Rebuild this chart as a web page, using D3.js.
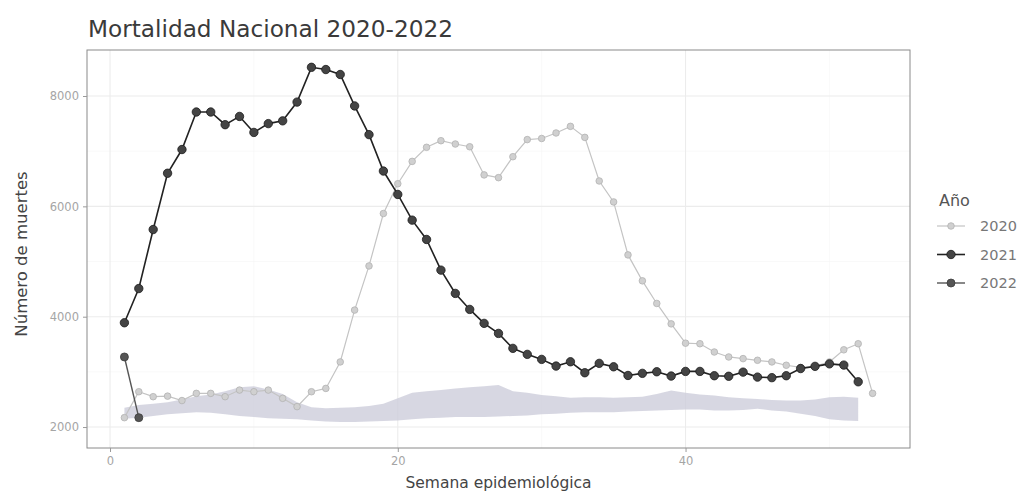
<!DOCTYPE html>
<html>
<head>
<meta charset="utf-8">
<script src="https://cdn.jsdelivr.net/npm/d3@7"></script>
<style>
  html, body { margin: 0; padding: 0; background: #fff; }
  svg { display: block; font-family: "DejaVu Sans", sans-serif; }
</style>
</head>
<body>
<svg id="chart" width="1026" height="495"></svg>
<script>
// ---- Data ----
const semanas = [1,2,3,4,5,6,7,8,9,10,11,12,13,14,15,16,17,18,19,20,21,22,23,24,25,26,27,28,29,30,31,32,33,34,35,36,37,38,39,40,41,42,43,44,45,46,47,48,49,50,51,52,53];
const anios = ["2020", "2021", "2022"];
const muertes2020 = [2170,2640,2550,2560,2480,2610,2610,2550,2670,2640,2670,2520,2370,2640,2700,3180,4120,4920,5870,6410,6815,7070,7190,7130,7080,6570,6520,6900,7210,7230,7330,7450,7250,6460,6080,5120,4650,4240,3870,3520,3510,3360,3270,3240,3210,3180,3120,3080,3100,3180,3400,3510,2610];
const muertes2021 = [3890,4510,5580,6600,7030,7710,7710,7480,7630,7340,7500,7550,7890,8520,8480,8390,7820,7300,6640,6216,5750,5400,4844,4422,4132,3879,3697,3426,3317,3226,3105,3183,2984,3154,3092,2935,2973,3002,2924,3008,3008,2930,2920,2995,2905,2895,2930,3060,3100,3145,3123,2820];
const muertes2022 = [3270,2170];
// historical band (lower / upper), weeks 1-52
const bandaBaja = [2150,2170,2200,2230,2250,2270,2260,2230,2200,2180,2160,2150,2140,2120,2100,2090,2090,2100,2110,2120,2140,2160,2170,2180,2180,2180,2190,2200,2210,2230,2240,2260,2270,2270,2270,2280,2290,2300,2310,2320,2320,2300,2300,2310,2330,2300,2280,2240,2200,2140,2120,2110];
const bandaAlta = [2350,2400,2420,2450,2500,2560,2590,2650,2720,2740,2680,2600,2450,2360,2340,2350,2360,2380,2420,2520,2620,2650,2670,2700,2720,2740,2760,2650,2620,2580,2560,2530,2540,2540,2530,2540,2550,2600,2660,2620,2590,2570,2540,2520,2510,2490,2480,2480,2500,2540,2550,2530];
const yTicks = [2000, 4000, 6000, 8000];
const yMinor = [3000, 5000, 7000];
const xTicks = [0, 20, 40];
const xMinor = [10, 30, 50];

// ---- Layout ----
const panel = { left: 87, right: 910, top: 50, bottom: 448 };
const svg = d3.select("#chart");

const xMin = 1, xMax = 53, xPad = (xMax - xMin) * 0.05;
const x = d3.scaleLinear().domain([xMin - xPad, xMax + xPad]).range([panel.left, panel.right]);
const y = d3.scaleLinear().domain([1620, 8834]).range([panel.bottom, panel.top]);

// gridlines
const grid = svg.append("g");
grid.selectAll(".ym").data(yMinor).join("line")
  .attr("x1", panel.left).attr("x2", panel.right)
  .attr("y1", d => y(d)).attr("y2", d => y(d))
  .attr("stroke", "#f5f5f5").attr("stroke-width", 0.6);
grid.selectAll(".xm").data(xMinor).join("line")
  .attr("y1", panel.top).attr("y2", panel.bottom)
  .attr("x1", d => x(d)).attr("x2", d => x(d))
  .attr("stroke", "#f5f5f5").attr("stroke-width", 0.6);
grid.selectAll(".yM").data(yTicks).join("line")
  .attr("x1", panel.left).attr("x2", panel.right)
  .attr("y1", d => y(d)).attr("y2", d => y(d))
  .attr("stroke", "#ececec").attr("stroke-width", 1.1);
grid.selectAll(".xM").data(xTicks).join("line")
  .attr("y1", panel.top).attr("y2", panel.bottom)
  .attr("x1", d => x(d)).attr("x2", d => x(d))
  .attr("stroke", "#ececec").attr("stroke-width", 1.1);

// band
const bandData = bandaBaja.map((lo, i) => ({ w: semanas[i], lo: lo, hi: bandaAlta[i] }));
svg.append("path").datum(bandData)
  .attr("d", d3.area().x(d => x(d.w)).y0(d => y(d.lo)).y1(d => y(d.hi)))
  .attr("fill", "#cdcddb").attr("opacity", 0.8);

// series
const series = [
  { name: "2020", vals: muertes2020, line: "#c4c4c4", lw: 1.2, fill: "#d0d0d0", stroke: "#b2b2b2", r: 3.3 },
  { name: "2022", vals: muertes2022, line: "#555555", lw: 1.4, fill: "#555555", stroke: "#3c3c3c", r: 4 },
  { name: "2021", vals: muertes2021, line: "#222222", lw: 1.6, fill: "#444444", stroke: "#1a1a1a", r: 4.2 }
];
const line = d3.line().x(d => x(d.w)).y(d => y(d.v));
series.forEach(s => {
  const pts = s.vals.map((v, i) => ({ w: semanas[i], v: v }));
  svg.append("path").datum(pts).attr("d", line)
    .attr("fill", "none").attr("stroke", s.line).attr("stroke-width", s.lw);
  svg.append("g").selectAll("circle").data(pts).join("circle")
    .attr("cx", d => x(d.w)).attr("cy", d => y(d.v)).attr("r", s.r)
    .attr("fill", s.fill).attr("stroke", s.stroke).attr("stroke-width", 0.8);
});

// panel border
svg.append("rect")
  .attr("x", panel.left).attr("y", panel.top)
  .attr("width", panel.right - panel.left).attr("height", panel.bottom - panel.top)
  .attr("fill", "none").attr("stroke", "#8a8a8a").attr("stroke-width", 1);

// axes
const yAxis = svg.append("g").attr("transform", `translate(${panel.left},0)`)
  .call(d3.axisLeft(y).tickValues(yTicks).tickSize(4).tickPadding(4).tickFormat(d3.format("d")));
const xAxis = svg.append("g").attr("transform", `translate(0,${panel.bottom})`)
  .call(d3.axisBottom(x).tickValues(xTicks).tickSize(4).tickPadding(5).tickFormat(d3.format("d")));
[xAxis, yAxis].forEach(a => {
  a.select(".domain").remove();
  a.selectAll(".tick line").attr("stroke", "#9a9a9a");
  a.selectAll(".tick text").attr("fill", "#a5a5a5").attr("font-size", 11.5)
    .attr("font-family", "DejaVu Sans, sans-serif");
});

// titles
svg.append("text").attr("x", 88).attr("y", 37)
  .attr("font-size", 23.2).attr("fill", "#3a3a3a")
  .text("Mortalidad Nacional 2020-2022");
svg.append("text").attr("x", (panel.left + panel.right) / 2).attr("y", 488)
  .attr("text-anchor", "middle").attr("font-size", 15.5).attr("fill", "#444")
  .text("Semana epidemiológica");
svg.append("text")
  .attr("transform", `translate(27,${(panel.top + panel.bottom) / 2 + 5}) rotate(-90)`)
  .attr("text-anchor", "middle").attr("font-size", 16.5).attr("fill", "#444")
  .text("Número de muertes");

// legend
const leg = svg.append("g");
leg.append("text").attr("x", 939).attr("y", 206)
  .attr("font-size", 16).attr("fill", "#555").text("Año");
const legOrder = ["2020", "2021", "2022"];
legOrder.forEach((nm, i) => {
  const s = series.find(z => z.name === nm);
  const cy = 226 + i * 28.5;
  leg.append("line").attr("x1", 937).attr("x2", 965).attr("y1", cy).attr("y2", cy)
    .attr("stroke", s.line).attr("stroke-width", s.lw);
  leg.append("circle").attr("cx", 951).attr("cy", cy).attr("r", s.r)
    .attr("fill", s.fill).attr("stroke", s.stroke).attr("stroke-width", 0.8);
  leg.append("text").attr("x", 980).attr("y", cy + 5)
    .attr("font-size", 14.5).attr("fill", "#777").text(nm);
});
</script>
</body>
</html>
